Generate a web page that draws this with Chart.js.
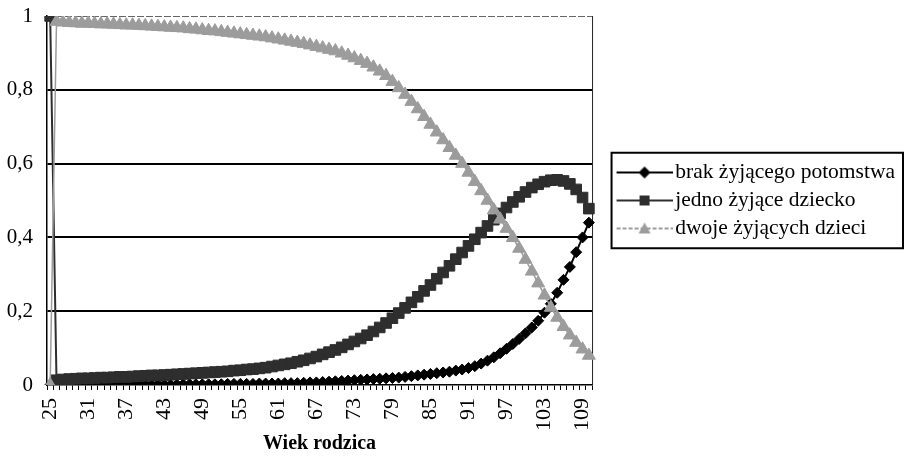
<!DOCTYPE html>
<html>
<head>
<meta charset="utf-8">
<script src="https://cdn.jsdelivr.net/npm/chart.js@4.4.1/dist/chart.umd.min.js"></script>
<style>
  html, body { margin: 0; padding: 0; background: #fff; }
</style>
</head>
<body>
<canvas id="chart" width="916" height="466"></canvas>
<script>
// Wiek rodzica (categories)
const ages = [
  25, 26, 27, 28, 29, 30, 31, 32, 33, 34,
  35, 36, 37, 38, 39, 40, 41, 42, 43, 44,
  45, 46, 47, 48, 49, 50, 51, 52, 53, 54,
  55, 56, 57, 58, 59, 60, 61, 62, 63, 64,
  65, 66, 67, 68, 69, 70, 71, 72, 73, 74,
  75, 76, 77, 78, 79, 80, 81, 82, 83, 84,
  85, 86, 87, 88, 89, 90, 91, 92, 93, 94,
  95, 96, 97, 98, 99, 100, 101, 102, 103, 104,
  105, 106, 107, 108, 109, 110
]
const xTickLabels = [25, 31, 37, 43, 49, 55, 61, 67, 73, 79, 85, 91, 97, 103, 109]
const yTickLabels = ["0", "0,2", "0,4", "0,6", "0,8", "1"]

const seriesNames = ["brak żyjącego potomstwa", "jedno żyjące dziecko", "dwoje żyjących dzieci"]

const brak = [
  0, 0, 0, 0, 0, 0, 0.001, 0.001, 0.001, 0.001,
  0.001, 0.001, 0.001, 0.001, 0.001, 0.001, 0.001, 0.001, 0.001, 0.001,
  0.001, 0.002, 0.002, 0.002, 0.002, 0.002, 0.002, 0.002, 0.003, 0.003,
  0.003, 0.003, 0.003, 0.004, 0.004, 0.004, 0.004, 0.005, 0.005, 0.005,
  0.006, 0.007, 0.007, 0.008, 0.009, 0.010, 0.011, 0.012, 0.013, 0.014,
  0.015, 0.016, 0.017, 0.018, 0.019, 0.020, 0.022, 0.024, 0.026, 0.028,
  0.030, 0.032, 0.034, 0.036, 0.039, 0.042, 0.046, 0.051, 0.058, 0.066,
  0.075, 0.086, 0.098, 0.111, 0.125, 0.140, 0.156, 0.174, 0.196, 0.220,
  0.250, 0.285, 0.320, 0.360, 0.400, 0.440
]

const jedno = [
  1.000, 0.013, 0.015, 0.016, 0.017, 0.018, 0.018, 0.019, 0.020, 0.020,
  0.021, 0.022, 0.022, 0.023, 0.024, 0.025, 0.026, 0.026, 0.027, 0.028,
  0.029, 0.030, 0.031, 0.032, 0.033, 0.034, 0.035, 0.036, 0.037, 0.039,
  0.040, 0.042, 0.043, 0.045, 0.047, 0.050, 0.053, 0.056, 0.059, 0.063,
  0.067, 0.072, 0.077, 0.083, 0.089, 0.095, 0.102, 0.110, 0.118, 0.126,
  0.135, 0.145, 0.156, 0.168, 0.181, 0.195, 0.209, 0.224, 0.239, 0.255,
  0.271, 0.288, 0.305, 0.323, 0.341, 0.359, 0.377, 0.395, 0.413, 0.431,
  0.448, 0.465, 0.481, 0.496, 0.510, 0.523, 0.535, 0.544, 0.551, 0.555,
  0.556, 0.553, 0.545, 0.530, 0.508, 0.478
]

const dwoje = [
  0, 0.985, 0.983, 0.982, 0.981, 0.980, 0.980, 0.979, 0.978, 0.978,
  0.977, 0.976, 0.975, 0.975, 0.974, 0.973, 0.972, 0.971, 0.970, 0.969,
  0.968, 0.967, 0.965, 0.964, 0.962, 0.960, 0.959, 0.957, 0.955, 0.953,
  0.951, 0.949, 0.947, 0.945, 0.943, 0.940, 0.937, 0.934, 0.931, 0.928,
  0.925, 0.921, 0.917, 0.913, 0.909, 0.905, 0.899, 0.893, 0.886, 0.879,
  0.871, 0.861, 0.850, 0.838, 0.822, 0.805, 0.787, 0.768, 0.748, 0.727,
  0.706, 0.685, 0.664, 0.643, 0.622, 0.600, 0.576, 0.551, 0.526, 0.500,
  0.474, 0.449, 0.424, 0.399, 0.370, 0.340, 0.308, 0.276, 0.243, 0.210,
  0.183, 0.158, 0.135, 0.115, 0.097, 0.080
]

const FONT = "'Liberation Serif', 'Times New Roman', serif"
const ICON_W = 66      // space reserved in the legend row
const ICON_EXTRA = 8   // the sample picture spills this far past both ends

// legend sample: short line with the marker in the middle (Excel style)
function legendIcon(style, color, dash) {
  const c = document.createElement("canvas")
  c.width = ICON_W + 2 * ICON_EXTRA
  c.height = 20
  const g = c.getContext("2d")
  const mx = 54
  g.strokeStyle = color
  g.lineWidth = 2
  g.setLineDash(dash)
  g.beginPath()
  g.moveTo(26, 10)
  g.lineTo(c.width, 10)
  g.stroke()
  g.setLineDash([])
  g.fillStyle = color
  g.beginPath()
  if (style === "rectRot") {
    g.moveTo(mx, 4); g.lineTo(mx + 6, 10); g.lineTo(mx, 16); g.lineTo(mx - 6, 10)
  } else if (style === "rect") {
    g.rect(mx - 5, 5, 10, 10)
  } else {
    g.moveTo(mx, 4); g.lineTo(mx + 6, 15); g.lineTo(mx - 6, 15)
  }
  g.closePath()
  g.fill()
  return c
}

// plot frame: dashed top edge, thin solid right edge
const plotFrame = {
  id: "plotFrame",
  beforeDatasetsDraw(chart) {
    const { ctx, chartArea: a } = chart
    ctx.save()
    ctx.lineWidth = 1
    ctx.strokeStyle = "#666"
    ctx.setLineDash([7, 2])
    ctx.beginPath()
    ctx.moveTo(a.left, a.top + 0.5)
    ctx.lineTo(a.right, a.top + 0.5)
    ctx.stroke()
    ctx.setLineDash([])
    ctx.strokeStyle = "#222"
    ctx.beginPath()
    ctx.moveTo(a.right + 0.5, a.top)
    ctx.lineTo(a.right + 0.5, a.bottom)
    ctx.stroke()
    ctx.restore()
  }
}

// box around the legend
const legendBorder = {
  id: "legendBorder",
  afterDraw(chart) {
    const boxes = chart.legend && chart.legend.legendHitBoxes
    if (!boxes || !boxes.length) return
    const { ctx } = chart
    const left = boxes[0].left + 13
    const top = boxes[0].top - 9
    const last = boxes[boxes.length - 1]
    const bottom = last.top + last.height + 9
    const right = chart.width - 13
    ctx.save()
    ctx.strokeStyle = "#000"
    ctx.lineWidth = 2
    ctx.strokeRect(left, top, right - left, bottom - top)
    ctx.restore()
  }
}

const datasets = [
  {
    label: seriesNames[0],
    data: brak,
    borderColor: "#000",
    backgroundColor: "#000",
    borderWidth: 2,
    pointStyle: "rectRot",
    pointRadius: 5.5,
    pointBorderWidth: 1,
    order: 2,
    icon: legendIcon("rectRot", "#000", [])
  },
  {
    label: seriesNames[1],
    data: jedno,
    borderColor: "#2e2e2e",
    backgroundColor: "#2e2e2e",
    borderWidth: 2,
    pointStyle: "rect",
    pointRadius: 7.5,
    pointBorderWidth: 1,
    order: 1,
    icon: legendIcon("rect", "#2e2e2e", [])
  },
  {
    label: seriesNames[2],
    data: dwoje,
    borderColor: "#9c9c9c",
    backgroundColor: "#9c9c9c",
    borderWidth: 1.5,
    pointStyle: "triangle",
    pointRadius: 7.5,
    pointBorderWidth: 1,
    order: 0,
    icon: legendIcon("triangle", "#9c9c9c", [4, 2])
  }
]

new Chart(document.getElementById("chart"), {
  type: "line",
  data: { labels: ages, datasets: datasets },
  plugins: [plotFrame, legendBorder],
  options: {
    responsive: false,
    animation: false,
    devicePixelRatio: 1,
    layout: { padding: { top: 16, left: 5, right: 11, bottom: 10 } },
    elements: { line: { tension: 0 } },
    scales: {
      x: {
        offset: true,
        afterFit: (s) => {
          s.height = 71
          s.paddingLeft = 0
          s.paddingRight = 0
        },
        grid: {
          offset: true,
          drawOnChartArea: false,
          drawTicks: true,
          tickLength: 5,
          color: "#000",
          lineWidth: 1
        },
        border: { color: "#000", width: 1.5 },
        ticks: {
          autoSkip: false,
          minRotation: 90,
          maxRotation: 90,
          padding: 8,
          color: "#000",
          font: { family: FONT, size: 22 },
          callback: (v, i) => (xTickLabels.includes(ages[i]) ? String(ages[i]) : "")
        },
        title: {
          display: true,
          text: "Wiek rodzica",
          color: "#000",
          font: { family: FONT, size: 20, weight: "bold" },
          padding: { top: 0, bottom: 0 }
        }
      },
      y: {
        min: 0,
        max: 1,
        afterFit: (s) => {
          s.width = 42
          s.paddingTop = 0
          s.paddingBottom = 0
        },
        ticks: {
          stepSize: 0.2,
          padding: 14,
          color: "#000",
          font: { family: FONT, size: 21 },
          callback: (v, i) => yTickLabels[i]
        },
        grid: {
          drawTicks: false,
          lineWidth: 2,
          color: (ctx) => (ctx.tick && ctx.tick.value > 0.01 && ctx.tick.value < 0.99 ? "#000" : "rgba(0,0,0,0)")
        },
        border: { color: "#000", width: 1.5 }
      }
    },
    plugins: {
      tooltip: { enabled: false },
      legend: {
        position: "right",
        fullSize: false,
        maxWidth: 400,
        labels: {
          usePointStyle: true,
          pointStyleWidth: ICON_W,
          padding: 6.5,
          color: "#000",
          font: { family: FONT, size: 21.5 },
          generateLabels: (chart) => chart.data.datasets.map((ds, i) => ({
            text: ds.label,
            pointStyle: ds.icon,
            fillStyle: ds.backgroundColor,
            strokeStyle: ds.borderColor,
            lineWidth: 0,
            hidden: false,
            datasetIndex: i
          }))
        }
      }
    }
  }
})
</script>
</body>
</html>
